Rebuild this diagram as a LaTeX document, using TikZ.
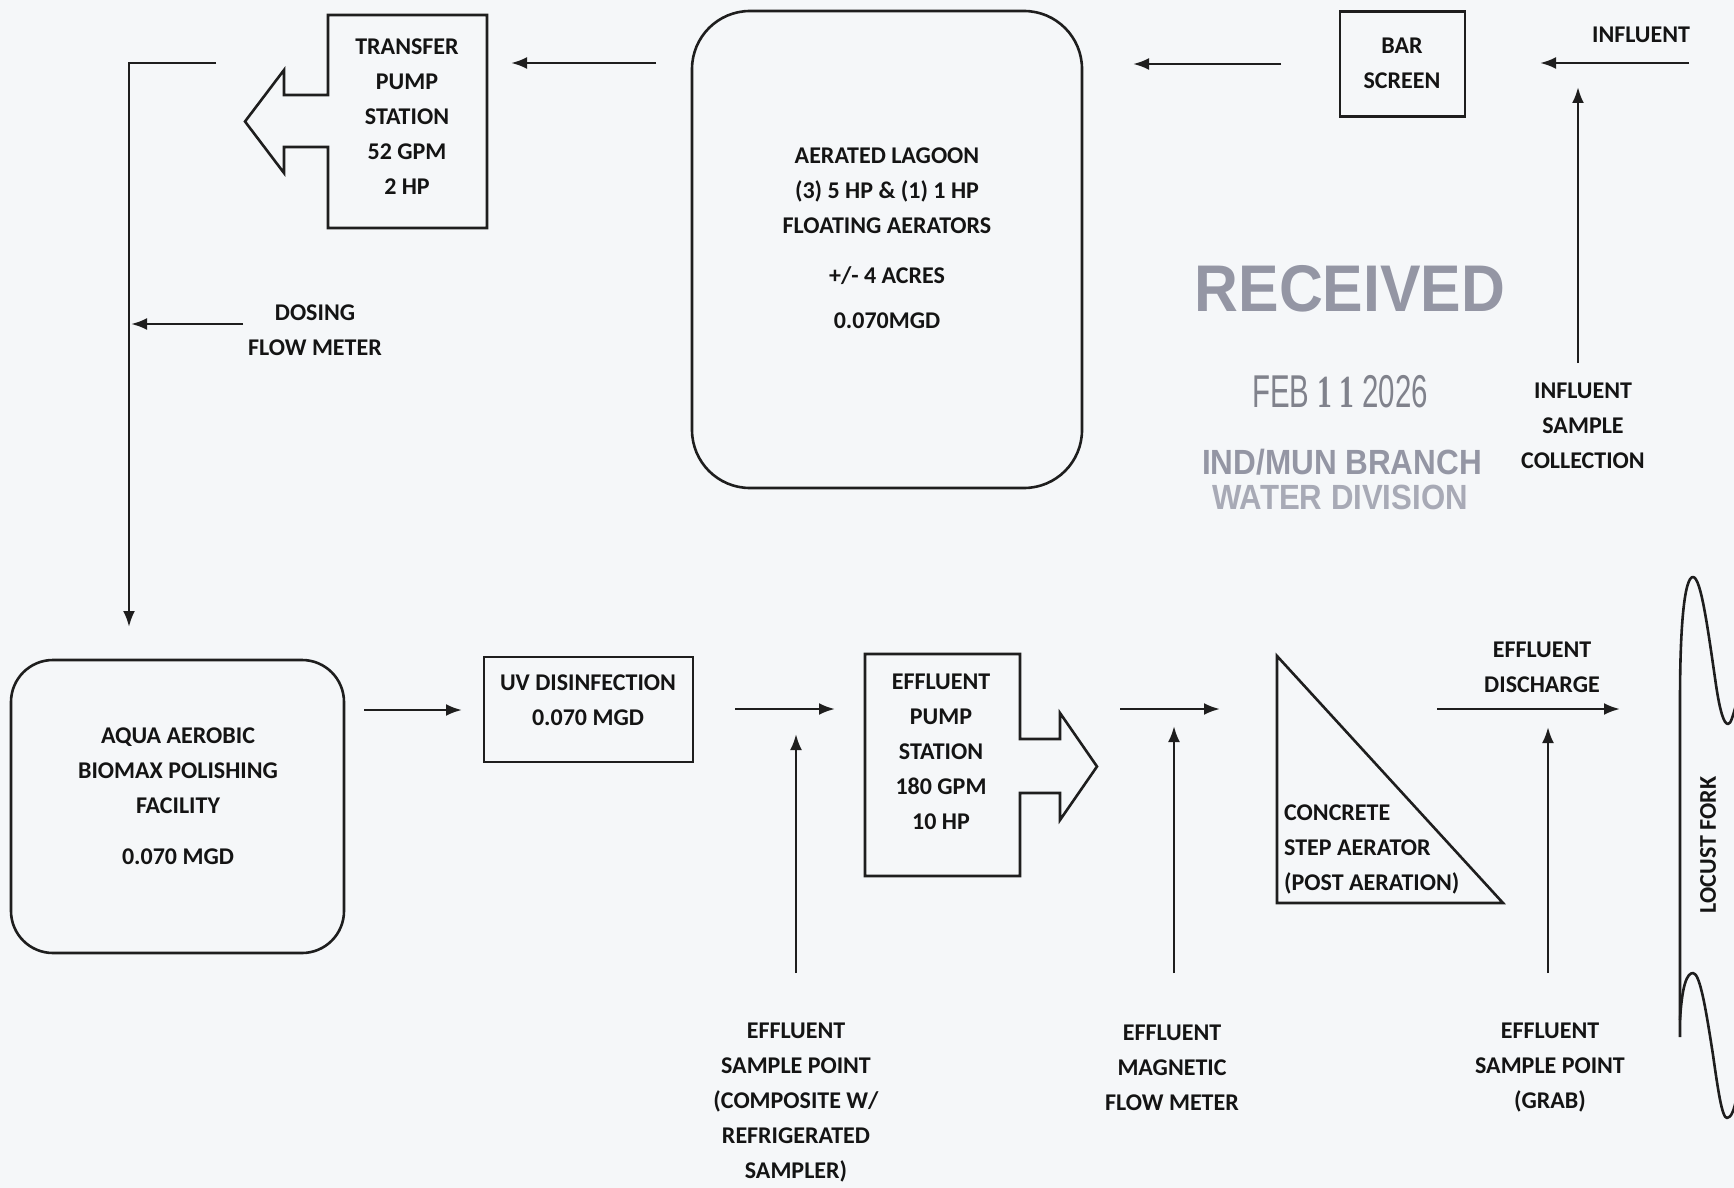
\documentclass[tikz,border=0pt]{standalone}
\usepackage{fontspec}
\usepackage{graphicx}
\setmainfont{Carlito}
\newfontfamily\stampsans{Liberation Sans}
\newfontfamily\stampserif{Liberation Serif}
\usetikzlibrary{arrows.meta}
\definecolor{bg}{RGB}{245,247,249}
\definecolor{ln}{RGB}{30,30,30}
\definecolor{tx}{RGB}{20,20,20}
\definecolor{stampA}{RGB}{148,150,164}
\definecolor{stampB}{RGB}{128,130,140}
\definecolor{stampC}{RGB}{168,170,182}
\begin{document}
\begin{tikzpicture}[x=1pt,y=-1pt,
  lbl/.style={font=\fontsize{24}{35}\selectfont\bfseries, align=center, text=tx, inner sep=0pt},
  outline/.style={draw=ln, line width=2.6pt, line join=miter},
  arr/.style={draw=ln, line width=2.6pt, -{Latex[length=16pt,width=12pt]}},
  plain/.style={draw=ln, line width=2.6pt},
  body/.style={inner sep=0pt, outer sep=0pt},
  stamp/.style={inner sep=0pt}]
\fill[bg] (0,0) rectangle (1734,1188);
\useasboundingbox (0,0) rectangle (1734,1188);

% ---------- top row ----------
% transfer pump station (box with arrow on the left)
\node[body, minimum width=159pt, minimum height=213pt] (tps) at (407.5,121.5) {};
\draw[outline] (328,15) -- (487,15) -- (487,228) -- (328,228) -- (328,147) -- (284,147)
  -- (284,173) -- (245,121.5) -- (284,70) -- (284,95) -- (328,95) -- cycle;
\node[lbl] (tpstx) at (407,116.5) {TRANSFER\\PUMP\\STATION\\52 GPM\\2 HP};

% aerated lagoon
\node[outline, rounded corners=58pt, minimum width=390pt, minimum height=477pt] (lagoon) at (887,249.5) {};
\node[lbl] (lagoontx) at (887,238) {AERATED LAGOON\\(3) 5 HP \& (1) 1 HP\\FLOATING AERATORS\\[15pt]+/- 4 ACRES\\[10pt]0.070MGD};

% bar screen
\node[outline, minimum width=125pt, minimum height=105pt] (bar) at (1402.5,64) {};
\node[lbl] (bartx) at (1402,63) {BAR\\SCREEN};

% influent
\node[lbl] (infl) at (1641,35) {INFLUENT};
\node[lbl] (isc) at (1583,426) {INFLUENT\\SAMPLE\\COLLECTION};

% dosing flow meter
\node[lbl] (dos) at (315,330.5) {DOSING\\FLOW METER};

% connectors top
\coordinate (a1s) at (656,63);   \coordinate (a1e) at (511,63);
\draw[arr] (a1s) -- (a1e);
\coordinate (a2s) at (1281,64);  \coordinate (a2e) at (1133,64);
\draw[arr] (a2s) -- (a2e);
\coordinate (a3s) at (1689,63);  \coordinate (a3e) at (1540,63);
\draw[arr] (a3s) -- (a3e);
\coordinate (a4s) at (1578,363); \coordinate (a4e) at (1578,87);
\draw[arr] (a4s) -- (a4e);
\coordinate (a5s) at (216,63);   \coordinate (a5e) at (129,627);
\draw[arr] (a5s) -| (a5e);
\coordinate (a6s) at (243,324);
\draw[arr] (a6s) -- (131,324);

% ---------- received stamp ----------
\node[stamp, text=stampA, font=\stampsans\bfseries\fontsize{66}{66}\selectfont] (rcv) at (1350,289) {\scalebox{0.92}[1]{RECEIVED}};
\node[stamp, text=stampB, font=\stampsans\fontsize{46}{46}\selectfont] (rdate) at (1340,392) {\scalebox{0.64}[1]{FEB {\stampserif\bfseries 1 1} 2026}};
\node[stamp, text=stampA, font=\stampsans\bfseries\fontsize{35}{35}\selectfont] (rbr) at (1342,462) {\scalebox{0.9}[1]{IND/MUN BRANCH}};
\node[stamp, text=stampC, font=\stampsans\bfseries\fontsize{35}{35}\selectfont] (rwd) at (1340,497) {\scalebox{0.89}[1]{WATER DIVISION}};

% ---------- bottom row ----------
\node[outline, rounded corners=42pt, minimum width=333pt, minimum height=293pt] (aqua) at (177.5,806.5) {};
\node[lbl] (aquatx) at (178,796.5) {AQUA AEROBIC\\BIOMAX POLISHING\\FACILITY\\[16pt]0.070 MGD};

\node[outline, minimum width=209pt, minimum height=105pt] (uv) at (588.5,709.5) {};
\node[lbl] (uvtx) at (588,700.5) {UV DISINFECTION\\0.070 MGD};

% effluent pump station (box with arrow on the right)
\node[body, minimum width=155pt, minimum height=222pt] (ep) at (942.5,765) {};
\draw[outline] (865,654) -- (1020,654) -- (1020,739) -- (1060,739) -- (1060,713) -- (1097,766.5)
  -- (1060,820) -- (1060,793) -- (1020,793) -- (1020,876) -- (865,876) -- cycle;
\node[lbl] (eptx) at (941,752) {EFFLUENT\\PUMP\\STATION\\180 GPM\\10 HP};

% concrete step aerator
\coordinate (tA) at (1277,656);
\coordinate (tB) at (1277,903);
\coordinate (tC) at (1503,903);
\draw[outline] (tA) -- (tB) -- (tC) -- cycle;
\node[lbl, align=left, anchor=west] (tritx) at (1284,849) {CONCRETE\\STEP AERATOR\\(POST AERATION)};

% labels below
\node[lbl] (es) at (796,1102.5) {EFFLUENT\\SAMPLE POINT\\(COMPOSITE W/\\REFRIGERATED\\SAMPLER)};
\node[lbl] (emf) at (1172,1067.5) {EFFLUENT\\MAGNETIC\\FLOW METER};
\node[lbl] (eg) at (1550,1067.5) {EFFLUENT\\SAMPLE POINT\\(GRAB)};
\node[lbl] (ed) at (1542,667) {EFFLUENT\\DISCHARGE};

% connectors bottom
\coordinate (b1s) at (364,710);  \coordinate (b1e) at (462,710);
\draw[arr] (b1s) -- (b1e);
\coordinate (b2s) at (735,709);  \coordinate (b2e) at (835,709);
\draw[arr] (b2s) -- (b2e);
\coordinate (b3s) at (796,973); \coordinate (b3e) at (796,734);
\draw[arr] (b3s) -- (b3e);
\coordinate (b4s) at (1120,709); \coordinate (b4e) at (1220,709);
\draw[arr] (b4s) -- (b4e);
\coordinate (b5s) at (1174,973); \coordinate (b5e) at (1174,726);
\draw[arr] (b5s) -- (b5e);
\coordinate (b6s) at (1437,709); \coordinate (b6e) at (1620,709);
\draw[arr] (b6s) -- (b6e);
\coordinate (b7s) at (1548,973); \coordinate (b7e) at (1548,727);
\draw[arr] (b7s) -- (b7e);

% ---------- Locust Fork ----------
\draw[plain, line join=round] (1680,1037) -- (1680,700)
  .. controls (1680,620) and (1685,577) .. (1693,577)
  .. controls (1701,577) and (1708,630) .. (1716,685)
  .. controls (1720,712) and (1724,724) .. (1728,724)
  .. controls (1731,724) and (1733,715) .. (1736,705);
\draw[plain, line join=round] (1680,1020)
  .. controls (1682,985) and (1687,973) .. (1693,973)
  .. controls (1700,973) and (1706,1010) .. (1713,1055)
  .. controls (1718,1090) and (1722,1118) .. (1727,1118)
  .. controls (1731,1118) and (1734,1110) .. (1736,1100);
\node[lbl, rotate=90] (lf) at (1708,845) {LOCUST FORK};
\end{tikzpicture}
\end{document}
